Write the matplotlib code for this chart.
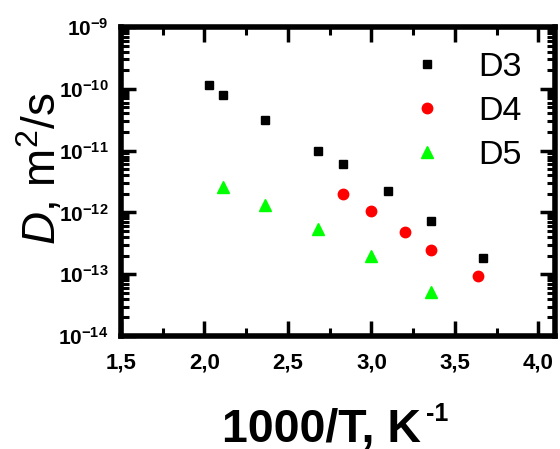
import matplotlib
matplotlib.use('Agg')
import matplotlib.pyplot as plt
from matplotlib.ticker import LogLocator, MultipleLocator, NullFormatter

plt.rcParams['font.family'] = ['Liberation Sans', 'DejaVu Sans']
plt.rcParams['mathtext.fontset'] = 'custom'
plt.rcParams['mathtext.rm'] = 'Liberation Sans'
plt.rcParams['mathtext.it'] = 'Liberation Sans:italic'
plt.rcParams['mathtext.bf'] = 'Liberation Sans:bold'

# Data
d3_x = [2.03, 2.11, 2.36, 2.68, 2.83, 3.10, 3.36, 3.67]
d3_y = [1.15e-10, 7.9e-11, 3.1e-11, 9.9e-12, 6.1e-12, 2.25e-12, 7.3e-13, 1.8e-13]
d4_x = [2.83, 3.00, 3.20, 3.36, 3.64]
d4_y = [1.96e-12, 1.05e-12, 4.8e-13, 2.5e-13, 9.5e-14]
d5_x = [2.11, 2.36, 2.68, 3.00, 3.36]
d5_y = [2.6e-12, 1.3e-12, 5.3e-13, 2.0e-13, 5.2e-14]

x_ticks = [1.5, 2.0, 2.5, 3.0, 3.5, 4.0]
x_ticklabels = ['1,5', '2,0', '2,5', '3,0', '3,5', '4,0']
y_exps = [-14, -13, -12, -11, -10, -9]

fig = plt.figure(figsize=(5.6, 4.49), dpi=100)
ax = fig.add_axes([121/560, 1-336/449, (555-121)/560, (336-27)/449])

ax.plot(d3_x, d3_y, ls='none', marker='s', ms=6.2, color='black', label='D3')
ax.plot(d4_x, d4_y, ls='none', marker='o', ms=7.5, color='#ff0000', label='D4')
ax.plot(d5_x, d5_y, ls='none', marker='^', ms=9, color='#00ff00', label='D5')

ax.set_yscale('log')
ax.set_xlim(1.5, 4.1)
ax.set_ylim(1e-14, 1e-9)

ax.set_xticks(x_ticks)
ax.set_xticklabels(x_ticklabels, fontweight='bold', fontsize=16)
ax.xaxis.set_minor_locator(MultipleLocator(0.25))
ax.set_yticks([10.0**e for e in y_exps])
ax.set_yticklabels([r'$\mathbf{10^{%d}}$' % e for e in y_exps], fontsize=15)
ax.yaxis.set_minor_locator(LogLocator(base=10, subs=range(2, 10), numticks=20))
ax.yaxis.set_minor_formatter(NullFormatter())

for s in ax.spines.values():
    s.set_linewidth(4)
ax.tick_params(which='major', direction='in', length=11, width=2.5, top=True, right=True,
               pad=9)
ax.tick_params(which='minor', direction='in', length=6, width=2.2, top=True, right=True)
ax.tick_params(axis='x', which='major', pad=12)

ax.legend(frameon=False, fontsize=24.5, loc='upper left',
          bbox_to_anchor=(410/560, 1-52/449), bbox_transform=fig.transFigure,
          borderpad=0, borderaxespad=0, handlelength=1, handletextpad=1.0,
          labelspacing=0.38)

fig.text(222/560, 1-442/449, '1000/T, K', fontsize=33.5, fontweight='bold',
         ha='left', va='baseline')
fig.text(426/560, 1-421/449, '-1', fontsize=18, fontweight='bold',
         ha='left', va='baseline')
fig.text(41/560, 1-168.5/449, r'$\mathit{D}$, m$^2$/s', fontsize=33, rotation=90,
         ha='center', va='center')

fig.savefig('out.png', dpi=100)
